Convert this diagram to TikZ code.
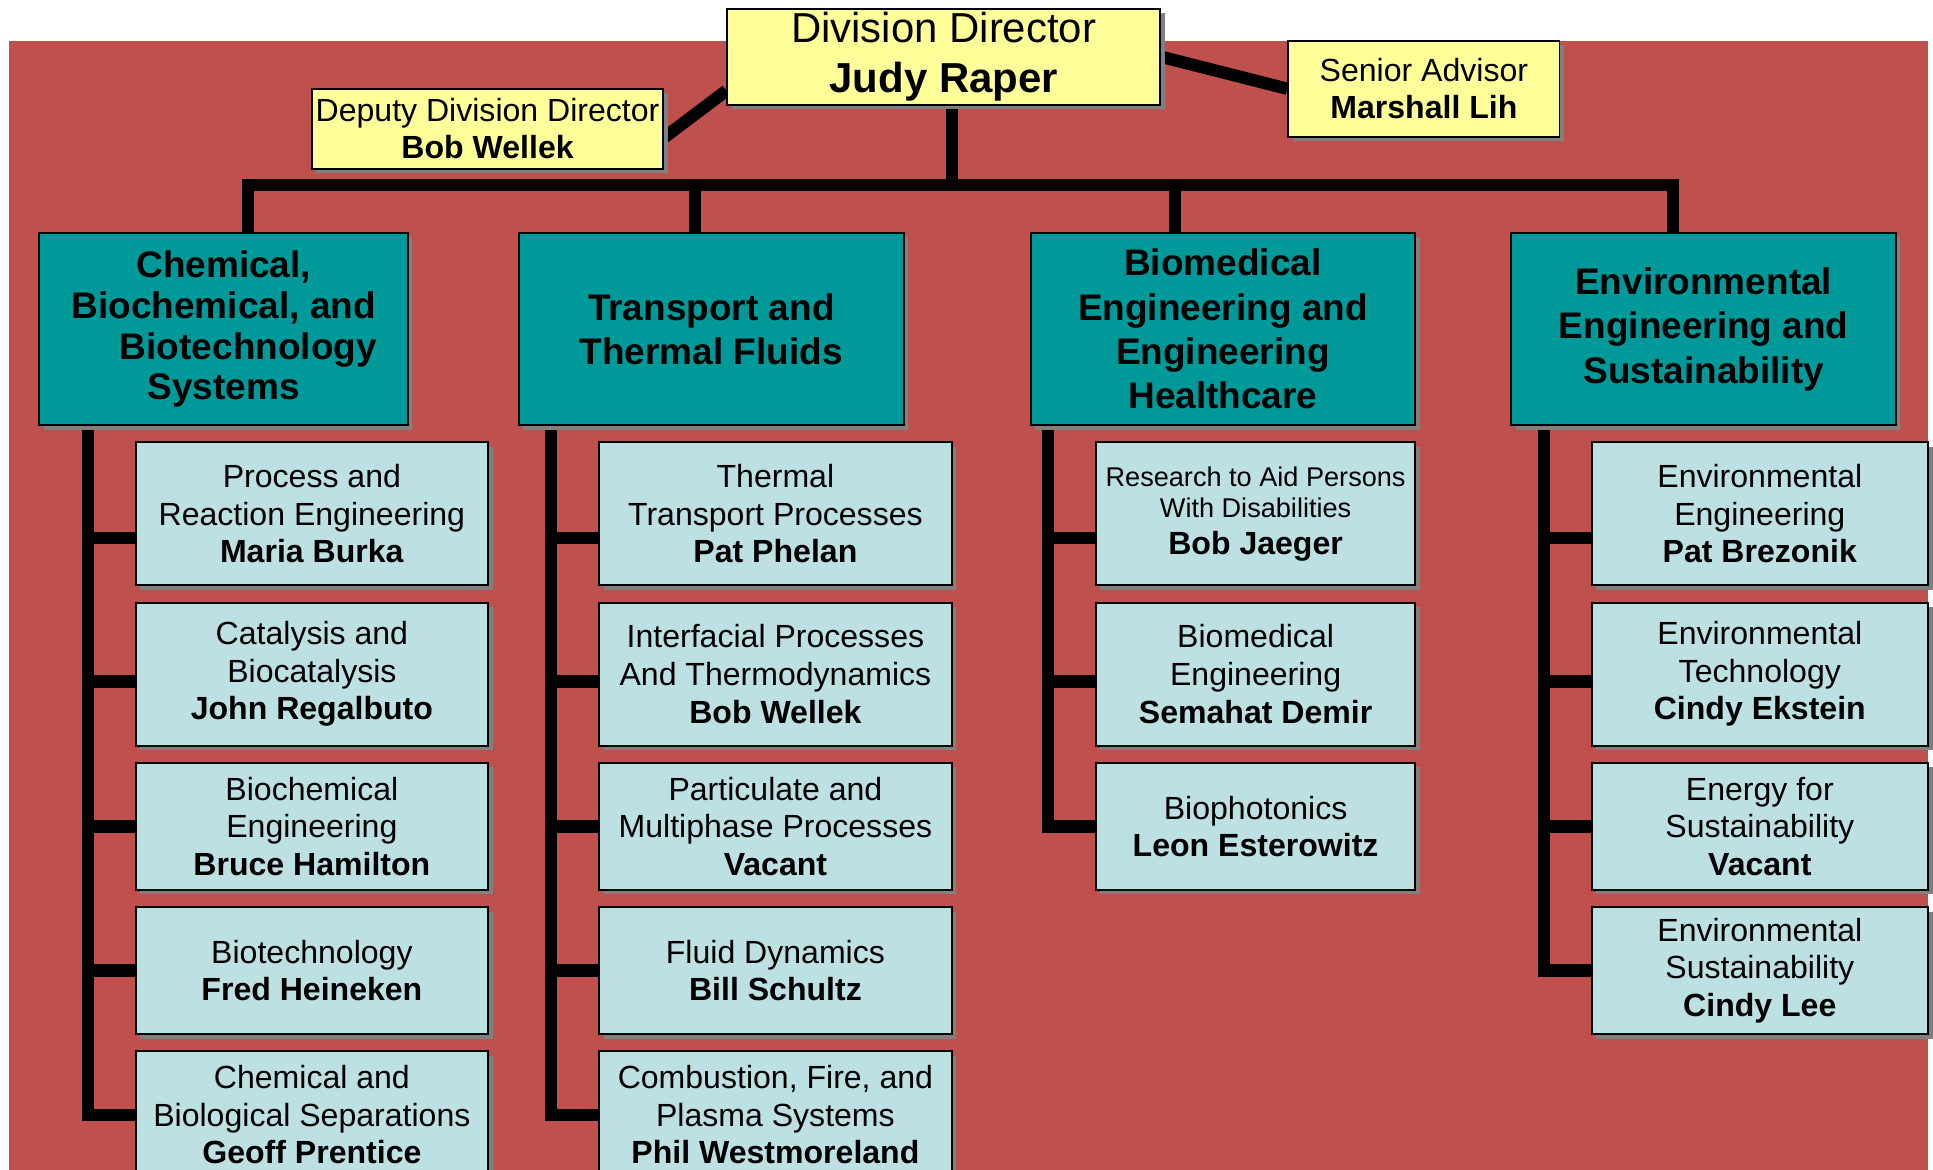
\documentclass[tikz,border=0pt]{standalone}
\usepackage{fontspec}
\setmainfont{Liberation Sans}
\usepackage{tikz}
\usetikzlibrary{positioning, shadows, backgrounds}
\definecolor{bgred}{RGB}{192,80,77}
\definecolor{chiefyellow}{RGB}{255,255,153}
\definecolor{divteal}{RGB}{0,153,153}
\definecolor{subcyan}{RGB}{189,224,226}
\definecolor{shadowgray}{RGB}{128,128,128}
\tikzstyle{unit} = [rectangle, draw=black, line width=0.8pt, inner sep=1pt, align=center, drop shadow={opacity=1, fill=shadowgray, shadow xshift=1.8pt, shadow yshift=-1.8pt}]
\tikzstyle{link} = [draw=black, line width=5pt]

\begin{document}
\begin{tikzpicture}[x=0.5pt, y=-0.5pt]
    \tikzstyle{chief} = [unit, fill=chiefyellow, font=\fontsize{13}{15}\selectfont]
    \tikzstyle{head} = [chief, minimum width=175.5pt, minimum height=39pt, font=\fontsize{17}{20}\selectfont]
    \tikzstyle{division} = [unit, fill=divteal, minimum width=156pt, minimum height=78pt, font=\bfseries\fontsize{15}{18}\selectfont]
    \tikzstyle{program} = [unit, fill=subcyan, minimum width=143pt, minimum height=58pt, font=\fontsize{13}{15.25}\selectfont]
    \tikzstyle{shortprogram} = [program, minimum height=51.5pt]

    \useasboundingbox (0,0) rectangle (1568,949);

    \node[head] (director) at (765.5,46) {Division Director\\\textbf{Judy Raper}};
    \node[chief, minimum width=142.5pt, minimum height=32.5pt] (deputy) at (395.5,104.5) {Deputy Division Director\\\textbf{Bob Wellek}};
    \node[chief, minimum width=110pt, minimum height=39pt] (senior) at (1155,72) {Senior Advisor\\\textbf{Marshall Lih}};

    \node[division, minimum width=149.5pt, font=\bfseries\fontsize{15}{16.5}\selectfont] (chem) at (181.5,267) {Chemical,\\Biochemical, and\\\hspace*{20pt}Biotechnology\\Systems};
    \node[division] (transport) at (577,267) {Transport and\\Thermal Fluids};
    \node[division] (biomed) at (992,267) {Biomedical\\Engineering and\\Engineering\\Healthcare};
    \node[division] (env) at (1382,267) {Environmental\\Engineering and\\Sustainability};

    % chemical column
    \node[program, anchor=north] (c1) at (253,358) {Process and\\Reaction Engineering\\\textbf{Maria Burka}};
    \node[program, below=6.2pt of c1] (c2) {Catalysis and\\Biocatalysis\\\textbf{John Regalbuto}};
    \node[shortprogram, below=6.2pt of c2] (c3) {Biochemical\\Engineering\\\textbf{Bruce Hamilton}};
    \node[shortprogram, below=6.2pt of c3] (c4) {Biotechnology\\\textbf{Fred Heineken}};
    \node[shortprogram, below=6.2pt of c4] (c5) {Chemical and\\Biological Separations\\\textbf{Geoff Prentice}};

    % transport column
    \node[program, anchor=north] (t1) at (629,358) {Thermal\\Transport Processes\\\textbf{Pat Phelan}};
    \node[program, below=6.2pt of t1] (t2) {Interfacial Processes\\And Thermodynamics\\\textbf{Bob Wellek}};
    \node[shortprogram, below=6.2pt of t2] (t3) {Particulate and\\Multiphase Processes\\\textbf{Vacant}};
    \node[shortprogram, below=6.2pt of t3] (t4) {Fluid Dynamics\\\textbf{Bill Schultz}};
    \node[shortprogram, below=6.2pt of t4] (t5) {Combustion, Fire, and\\Plasma Systems\\\textbf{Phil Westmoreland}};

    % biomedical column
    \node[program, anchor=north, minimum width=129.5pt, font=\fontsize{11}{12.5}\selectfont] (b1) at (1018.5,358) {Research to Aid Persons\\With Disabilities\\[2.5pt]{\fontsize{13}{15}\selectfont\textbf{Bob Jaeger}}};
    \node[program, below=6.2pt of b1, minimum width=129.5pt] (b2) {Biomedical\\Engineering\\\textbf{Semahat Demir}};
    \node[shortprogram, below=6.2pt of b2, minimum width=129.5pt] (b3) {Biophotonics\\\textbf{Leon Esterowitz}};

    % environmental column
    \node[program, anchor=north, minimum width=136.5pt] (e1) at (1427.5,358) {Environmental\\Engineering\\\textbf{Pat Brezonik}};
    \node[program, below=6.2pt of e1, minimum width=136.5pt] (e2) {Environmental\\Technology\\\textbf{Cindy Ekstein}};
    \node[shortprogram, below=6.2pt of e2, minimum width=136.5pt] (e3) {Energy for\\Sustainability\\\textbf{Vacant}};
    \node[shortprogram, below=6.2pt of e3, minimum width=136.5pt] (e4) {Environmental\\Sustainability\\\textbf{Cindy Lee}};

    \begin{scope}[on background layer]
        \fill[bgred] (7,33) rectangle (1564,949);

        \coordinate (hub) at (772,150);
        \coordinate (ct) at ([xshift=-19pt]c1.west);
        \coordinate (tt) at ([xshift=-19pt]t1.west);
        \coordinate (bt) at ([xshift=-19pt]b1.west);
        \coordinate (et) at ([xshift=-19pt]e1.west);

        \draw[link] ([yshift=-13.75pt]director.west) -- ([yshift=-3.5pt]deputy.east);
        \draw[link] (director.east) -- (senior.west);
        \draw[link] (director.south -| hub) -- (hub);
        \draw[link] ([xshift=9.75pt]chem.north) |- (hub);
        \draw[link] ([xshift=-12.5pt]env.north) |- (hub);
        \draw[link] ([xshift=-6.5pt]transport.north) -- ([xshift=-6.5pt]transport.north |- hub);
        \draw[link] ([xshift=-19.5pt]biomed.north) -- ([xshift=-19.5pt]biomed.north |- hub);

        \draw[link] (chem.south -| ct) |- (c5.west);
        \draw[link] ([yshift=-9.75pt]c1.west) -- ([yshift=-9.75pt]c1.west -| ct);
        \draw[link] ([yshift=-3pt]c2.west) -- ([yshift=-3pt]c2.west -| ct);
        \draw[link] (c3.west) -- (c3.west -| ct);
        \draw[link] (c4.west) -- (c4.west -| ct);

        \draw[link] (transport.south -| tt) |- (t5.west);
        \draw[link] ([yshift=-9.75pt]t1.west) -- ([yshift=-9.75pt]t1.west -| tt);
        \draw[link] ([yshift=-3pt]t2.west) -- ([yshift=-3pt]t2.west -| tt);
        \draw[link] (t3.west) -- (t3.west -| tt);
        \draw[link] (t4.west) -- (t4.west -| tt);

        \draw[link] (biomed.south -| bt) |- (b3.west);
        \draw[link] ([yshift=-9.75pt]b1.west) -- ([yshift=-9.75pt]b1.west -| bt);
        \draw[link] ([yshift=-3pt]b2.west) -- ([yshift=-3pt]b2.west -| bt);

        \draw[link] (env.south -| et) |- (e4.west);
        \draw[link] ([yshift=-9.75pt]e1.west) -- ([yshift=-9.75pt]e1.west -| et);
        \draw[link] ([yshift=-3pt]e2.west) -- ([yshift=-3pt]e2.west -| et);
        \draw[link] (e3.west) -- (e3.west -| et);
    \end{scope}
\end{tikzpicture}
\end{document}
